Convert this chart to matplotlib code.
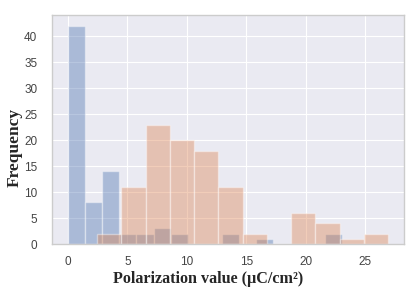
import numpy as np
import matplotlib.pyplot as plt
import seaborn as sns

sns.set_style("darkgrid")

# bin edges and counts
blue_edges = np.linspace(0.0, 23.0, 17)
blue_counts = [42, 8, 14, 2, 2, 3, 2, 0, 0, 2, 0, 1, 0, 0, 0, 2]

orange_edges = np.linspace(2.44, 26.9, 13)
orange_counts = [2, 11, 23, 20, 18, 11, 2, 0, 6, 4, 1, 2]

x_ticks = [0, 5, 10, 15, 20, 25]
y_ticks = [0, 5, 10, 15, 20, 25, 30, 35, 40]

fig = plt.figure(figsize=(4.15, 2.91), dpi=100)
ax = fig.add_axes([0.1253, 0.1615, 0.8482, 0.787])

blue_mid = (blue_edges[:-1] + blue_edges[1:]) / 2
orange_mid = (orange_edges[:-1] + orange_edges[1:]) / 2
ax.hist(blue_mid, bins=blue_edges, weights=blue_counts, color="#4C72B0",
        alpha=0.4, edgecolor="white", linewidth=1)
ax.hist(orange_mid, bins=orange_edges, weights=orange_counts, color="#DD8452",
        alpha=0.4, edgecolor="white", linewidth=1)

ax.set_xticks(x_ticks)
ax.set_yticks(y_ticks)
ax.set_ylim(0, 44.1)
for s in ax.spines.values():
    s.set_visible(True)
    s.set_color("#cccccc")
    s.set_linewidth(1)

for lab in ax.get_xticklabels() + ax.get_yticklabels():
    lab.set_family("Liberation Sans")
    lab.set_fontsize(8.5)
    lab.set_color("#444444")
ax.tick_params(axis="x", pad=5)
ax.tick_params(axis="y", pad=7)

# labels sit a bit off centre in the original
ax.set_xlabel("Polarization value (μC/cm²)", family="Liberation Serif",
              fontweight="bold", fontsize=11.6, va="baseline")
ax.xaxis.set_label_coords(0.501, 0.0275, transform=fig.transFigure)
ax.set_ylabel("Frequency", family="Liberation Serif", fontweight="bold",
              fontsize=12.5, va="center", ha="center")
ax.yaxis.set_label_coords(0.036, 0.4948, transform=fig.transFigure)

fig.savefig("out.png", dpi=100)
